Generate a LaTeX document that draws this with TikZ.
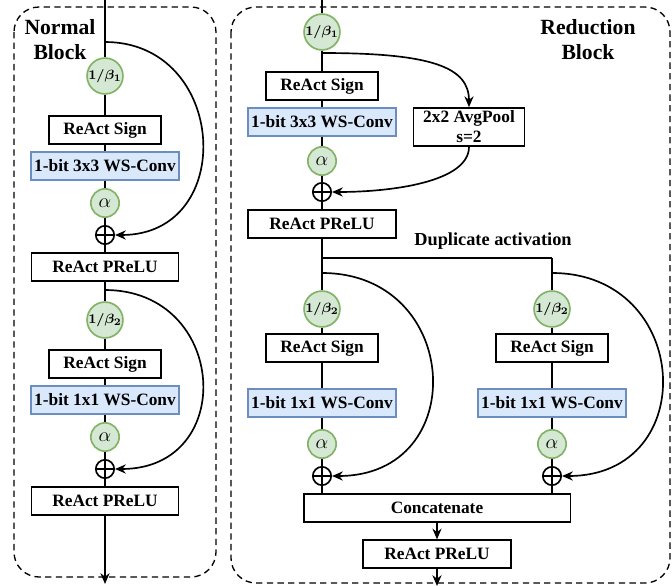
\documentclass[tikz,border=0pt]{standalone}
\usepackage{bm}
\usepackage{fontspec}
\setmainfont{Liberation Serif}
\usetikzlibrary{arrows.meta, positioning}
\definecolor{convfill}{HTML}{DAE8FC}
\definecolor{convdraw}{HTML}{6C8EBF}
\definecolor{coeffill}{HTML}{D5E8D4}
\definecolor{coefdraw}{HTML}{82B366}
\newcommand{\boxfont}{\fontsize{10.4}{12}\selectfont\bfseries}
\newcommand{\titlefont}{\fontsize{13}{15}\selectfont\bfseries}

\begin{document}
\begin{tikzpicture}[x=0.6pt, y=-0.6pt,
    block/.style={rectangle, draw, line width=1pt, fill=white, minimum height=16.5pt, inner sep=1pt, font=\boxfont},
    conv/.style={block, draw=convdraw, fill=convfill, minimum width=88.8pt},
    coef/.style={circle, draw=coefdraw, fill=coeffill, line width=1pt, minimum size=18.6pt, inner sep=0pt, font=\footnotesize},
    alphanode/.style={coef, minimum size=17pt, font=\large},
    sumnode/.style={circle, draw, line width=1pt, minimum size=11pt, inner sep=0pt,
        path picture={\draw[line width=1pt] (path picture bounding box.north) -- (path picture bounding box.south)
            (path picture bounding box.west) -- (path picture bounding box.east);}},
    panel/.style={draw, line width=0.8pt, dash pattern=on 3.8pt off 2.6pt, rounded corners=15pt},
    wire/.style={line width=1pt},
    arrow/.style={-{Stealth[length=6.5pt,width=5.5pt]}, line width=1pt}
]
\useasboundingbox (0,0) rectangle (672,586);

% Panels
\draw[panel] (14,7) rectangle (216,577);
\draw[panel] (231,7) rectangle (670,583);
\node[font=\titlefont, align=center] (ntitle) at (60,40) {Normal\\Block};
\node[font=\titlefont, align=center] (rtitle) at (588,40) {Reduction\\Block};

% Normal block
\coordinate (ntop) at (105,0);
\coordinate (nbr1) at (105,42);
\node[coef] (nbeta1) at (105,76) {$\bm{1/\beta_1}$};
\node[block, minimum width=67.2pt] (nsign1) at (105,130) {ReAct Sign};
\node[conv] (nconv1) at (105,166) {1-bit 3x3 WS-Conv};
\node[alphanode] (nalpha1) at (105,203) {$\alpha$};
\node[sumnode] (nsum1) at (105,235) {};
\node[block, minimum width=88.2pt] (nprelu1) at (105,267) {ReAct PReLU};
\coordinate (nbr2) at (105,290);
\node[coef] (nbeta2) at (105,320) {$\bm{1/\beta_2}$};
\node[block, minimum width=67.2pt] (nsign2) at (105,364) {ReAct Sign};
\node[conv] (nconv2) at (105,400) {1-bit 1x1 WS-Conv};
\node[alphanode] (nalpha2) at (105,437) {$\alpha$};
\node[sumnode] (nsum2) at (105,469) {};
\node[block, minimum width=88.2pt] (nprelu2) at (105,501) {ReAct PReLU};
\coordinate (nend) at (105,584);

\draw[wire] (ntop) -- (nbeta1) -- (nsign1) -- (nconv1) -- (nalpha1) -- (nsum1) -- (nprelu1)
    -- (nbeta2) -- (nsign2) -- (nconv2) -- (nalpha2) -- (nsum2) -- (nprelu2);
\draw[arrow] (nprelu2) -- (nend);
\draw[arrow] (nbr1) .. controls +(123,0) and +(123,0) .. (nsum1.east);
\draw[arrow] (nbr2) .. controls +(123,0) and +(123,0) .. (nsum2.east);

% Reduction block
\coordinate (rtop) at (322,0);
\node[coef] (rbeta1) at (322,32) {$\bm{1/\beta_1}$};
\coordinate (rbr1) at (322,53);
\node[block, minimum width=67.2pt] (rsign1) at (322,86) {ReAct Sign};
\node[conv] (rconv1) at (322,122) {1-bit 3x3 WS-Conv};
\node[block, minimum width=66.6pt, minimum height=22.8pt, align=center, inner sep=0.5pt] (rpool) at (469,127) {2x2 AvgPool\\s=2};
\node[alphanode] (ralpha1) at (322,161) {$\alpha$};
\node[sumnode] (rsum1) at (322,192) {};
\node[block, minimum width=88.8pt] (rprelu1) at (322,224) {ReAct PReLU};
\node[font=\fontsize{11}{13}\selectfont\bfseries] (dup) at (493,241) {Duplicate activation};
\coordinate (rsplit) at (322,258);
\coordinate (rsplitr) at (552,258);

\draw[wire] (rtop) -- (rbeta1) -- (rsign1) -- (rconv1) -- (ralpha1) -- (rsum1) -- (rprelu1) -- (rsplit) -- (rsplitr);
\draw[arrow] (rbr1) .. controls +(110,0) and +(0,-40) .. (rpool.north);
\draw[arrow] (rpool.south) .. controls +(0,35) and +(60,0) .. (rsum1.east);

% Two parallel branches
\node[block, minimum width=160pt] (concat) at (437,508) {Concatenate};
\foreach \name/\x in {lt/322, rt/552} {
    \coordinate (\name br) at (\x,273);
    \node[coef] (\name beta) at (\x,309) {$\bm{1/\beta_2}$};
    \node[block, minimum width=67.2pt] (\name sign) at (\x,348) {ReAct Sign};
    \node[conv] (\name conv) at (\x,403) {1-bit 1x1 WS-Conv};
    \node[alphanode] (\name alpha) at (\x,444) {$\alpha$};
    \node[sumnode] (\name sum) at (\x,476) {};
    \draw[wire] (\x,258) -- (\name beta) -- (\name sign) -- (\name conv) -- (\name alpha) -- (\name sum)
        -- (\name sum |- concat.north);
    \draw[arrow] (\name br) .. controls +(140,0) and +(140,0) .. (\name sum.east);
}
\node[block, minimum width=88.8pt] (rprelu2) at (437,554) {ReAct PReLU};
\coordinate (rend) at (437,586);
\draw[arrow] (concat) -- (rprelu2);
\draw[arrow] (rprelu2) -- (rend);

\end{tikzpicture}
\end{document}
